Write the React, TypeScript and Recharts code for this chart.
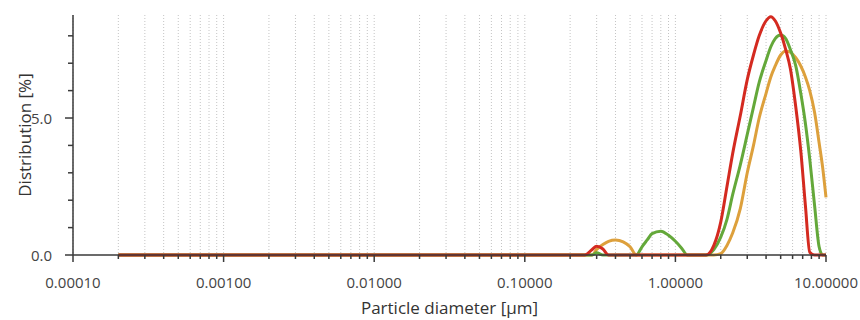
import React from "react";
import { LineChart, Line, XAxis, YAxis, CartesianGrid } from "recharts";

// particle diameter bins [µm]
const diameters = [
  0.0002, 0.2, 0.25, 0.28, 0.3, 0.33, 0.36, 0.4, 0.45, 0.5, 0.55, 0.6, 0.65,
  0.7, 0.8, 0.9, 1.0, 1.1, 1.2, 1.4, 1.6, 1.8, 2.0, 2.2, 2.4, 2.7, 3.0, 3.3,
  3.6, 4.0, 4.3, 4.6, 5.0, 5.4, 5.8, 6.3, 6.8, 7.3, 7.8, 8.4, 9.0, 9.5, 10.0,
];

// distribution [%] per sample
const redValues = [
  0, 0, 0, 0.2, 0.32, 0.22, 0, 0, 0, 0, 0, 0, 0,
  0, 0, 0, 0, 0, 0, 0, 0, 0.35, 1.2, 2.5, 3.7, 5.1, 6.4, 7.3,
  8.0, 8.55, 8.7, 8.55, 8.1, 7.5, 6.8, 5.4, 3.8, 1.8, 0.1, 0, 0, 0, 0,
];
const greenValues = [
  0, 0, 0, 0, 0.08, 0, 0, 0, 0, 0, 0, 0.3, 0.55,
  0.78, 0.87, 0.72, 0.5, 0.25, 0, 0, 0, 0.2, 0.65, 1.3, 2.2, 3.3, 4.4, 5.4,
  6.3, 7.1, 7.6, 7.9, 8.03, 7.9, 7.5, 6.9, 5.9, 4.8, 3.5, 1.8, 0.3, 0, 0,
];
const orangeValues = [
  0, 0, 0, 0, 0.2, 0.38, 0.5, 0.55, 0.48, 0.3, 0, 0, 0,
  0, 0, 0, 0, 0, 0, 0, 0, 0, 0.05, 0.35, 0.8, 1.7, 3.0, 4.0,
  5.0, 5.9, 6.5, 6.9, 7.3, 7.45, 7.4, 7.2, 6.9, 6.5, 6.0, 5.2, 4.1, 3.2, 2.1,
];

const decades = [0.0001, 0.001, 0.01, 0.1, 1];
const xTicks = [...decades.flatMap((d) => [1, 2, 3, 4, 5, 6, 7, 8, 9].map((m) => m * d)), 10];
const majorX = new Set([...decades, 10]);
const yTicks = [0, 1, 2, 3, 4, 5, 6, 7, 8];
const yLabelled = [0, 5];

const data = diameters.map((d, i) => ({
  d,
  red: redValues[i],
  green: greenValues[i],
  orange: orangeValues[i],
}));

const FONT = "'Open Sans', 'Noto Sans', sans-serif";
const AXIS = "#3a3a3a";

const XTick = (props: any) => {
  const { x, y, payload } = props;
  const major = majorX.has(payload.value);
  return (
    <g>
      <line x1={x} x2={x} y1={y} y2={y + (major ? 7 : 4)} stroke={AXIS} strokeWidth={1.5} />
      {major && (
        <text x={x} y={y + 27} textAnchor="middle" dominantBaseline="central" fontSize={15} fill="#444" fontFamily={FONT}>
          {payload.value.toFixed(5)}
        </text>
      )}
    </g>
  );
};

const YTick = (props: any) => {
  const { x, y, payload } = props;
  const labelled = yLabelled.includes(payload.value);
  return (
    <g>
      <line x1={x - (labelled ? 8 : 5)} x2={x} y1={y} y2={y} stroke={AXIS} strokeWidth={1.5} />
      {labelled && (
        <text x={x - 21} y={y} textAnchor="end" dominantBaseline="central" fontSize={15} fill="#444" fontFamily={FONT}>
          {payload.value.toFixed(1)}
        </text>
      )}
    </g>
  );
};

const App = () => {
  return (
    <div style={{ position: "absolute", left: 0, top: 0, background: "#fff" }}>
      <LineChart width={860} height={320} data={data} margin={{ top: 15, right: 34, bottom: 0, left: 0 }}>
        <CartesianGrid horizontal={false} stroke="#c4c4c4" strokeDasharray="1 2" />
        <XAxis
          dataKey="d"
          type="number"
          scale="log"
          domain={[0.0001, 10]}
          ticks={xTicks}
          interval={0}
          height={65}
          tickSize={0}
          tickMargin={0}
          tick={<XTick />}
          axisLine={{ stroke: AXIS, strokeWidth: 1.5 }}
          label={{
            value: "Particle diameter [µm]",
            position: "insideBottom",
            offset: 6,
            style: { fontSize: 17, fill: "#333", fontFamily: FONT },
          }}
        />
        <YAxis
          type="number"
          domain={[0, 8.76]}
          ticks={yTicks}
          interval={0}
          width={73}
          tickSize={0}
          tickMargin={0}
          tick={<YTick />}
          axisLine={{ stroke: AXIS, strokeWidth: 1.5 }}
          label={{
            value: "Distribution [%]",
            angle: -90,
            position: "insideLeft",
            offset: 25,
            style: { fontSize: 17, fill: "#333", fontFamily: FONT, textAnchor: "middle" },
          }}
        />
        <Line type="monotone" dataKey="orange" stroke="#dda03c" strokeWidth={3} dot={false} isAnimationActive={false} />
        <Line type="monotone" dataKey="green" stroke="#64a83a" strokeWidth={3} dot={false} isAnimationActive={false} />
        <Line type="monotone" dataKey="red" stroke="#d42a20" strokeWidth={3} dot={false} isAnimationActive={false} />
      </LineChart>
    </div>
  );
};

export default App;
